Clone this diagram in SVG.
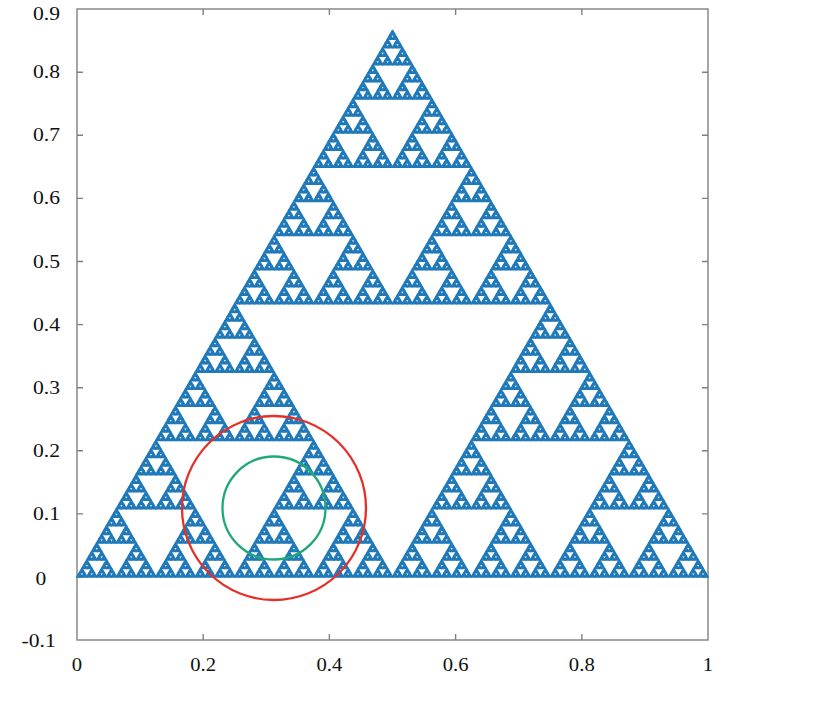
<svg xmlns="http://www.w3.org/2000/svg" width="830" height="722" viewBox="0 0 830 722">
<style>
.tri{fill:#2079b8;stroke:#2079b8;stroke-width:1.7;stroke-linejoin:round}
.frame{fill:none;stroke:#808080;stroke-width:1.4}
.tick{stroke:#808080;stroke-width:1.4}
.lbl{font-family:"Liberation Serif","Times New Roman",serif;font-size:18px;fill:#111}
.xl{text-anchor:middle}
.circ{fill:none;stroke-width:2.3}
</style>
<defs>
<polygon id="L0" class="tri" points="0,0 4.9297,0 2.4648,-4.2693"/>
<g id="L1"><use href="#L0"/><use href="#L0" x="4.9297"/><use href="#L0" x="2.4648" y="-4.2693"/></g>
<g id="L2"><use href="#L1"/><use href="#L1" x="9.8594"/><use href="#L1" x="4.9297" y="-8.5386"/></g>
<g id="L3"><use href="#L2"/><use href="#L2" x="19.7188"/><use href="#L2" x="9.8594" y="-17.0772"/></g>
<g id="L4"><use href="#L3"/><use href="#L3" x="39.4375"/><use href="#L3" x="19.7188" y="-34.1544"/></g>
<g id="L5"><use href="#L4"/><use href="#L4" x="78.875"/><use href="#L4" x="39.4375" y="-68.3088"/></g>
<g id="L6"><use href="#L5"/><use href="#L5" x="157.75"/><use href="#L5" x="78.875" y="-136.6176"/></g>
<g id="L7"><use href="#L6"/><use href="#L6" x="315.5"/><use href="#L6" x="157.75" y="-273.2352"/></g>
</defs>
<rect width="830" height="722" fill="#fff"/>
<g id="axes">
<rect class="frame" x="77" y="9" width="631" height="631"/>
<path class="tick" d="M203.2 640v-6M329.4 640v-6M455.6 640v-6M581.8 640v-6M203.2 9v6M329.4 9v6M455.6 9v6M581.8 9v6
M77 577h6M77 513.9h6M77 450.8h6M77 387.7h6M77 324.6h6M77 261.5h6M77 198.4h6M77 135.3h6M77 72.2h6
M708 577h-6M708 513.9h-6M708 450.8h-6M708 387.7h-6M708 324.6h-6M708 261.5h-6M708 198.4h-6M708 135.3h-6M708 72.2h-6"/>
</g>
<g id="sierpinski" transform="translate(77,577)"><use href="#L7"/></g>
<g id="circles">
<circle class="circ" cx="274" cy="508" r="92" stroke="#e5302a"/>
<circle class="circ" cx="274" cy="508" r="51.5" stroke="#1fa878"/>
</g>
<g id="ylabels" class="lbl">
<text transform="translate(33,20) scale(1.2,1)">0.9</text>
<text transform="translate(33,78) scale(1.2,1)">0.8</text>
<text transform="translate(33,141) scale(1.2,1)">0.7</text>
<text transform="translate(33,204) scale(1.2,1)">0.6</text>
<text transform="translate(33,268) scale(1.2,1)">0.5</text>
<text transform="translate(33,331) scale(1.2,1)">0.4</text>
<text transform="translate(33,394) scale(1.2,1)">0.3</text>
<text transform="translate(33,457) scale(1.2,1)">0.2</text>
<text transform="translate(33,520) scale(1.2,1)">0.1</text>
<text transform="translate(35.5,585) scale(1.2,1)">0</text>
<text transform="translate(21.5,647) scale(1.2,1)">-0.1</text>
</g>
<g id="xlabels" class="lbl xl">
<text transform="translate(77,671) scale(1.15,1.1)">0</text>
<text transform="translate(203.2,671) scale(1.15,1.1)">0.2</text>
<text transform="translate(329.4,671) scale(1.15,1.1)">0.4</text>
<text transform="translate(455.6,671) scale(1.15,1.1)">0.6</text>
<text transform="translate(581.8,671) scale(1.15,1.1)">0.8</text>
<text transform="translate(708,671) scale(1.15,1.1)">1</text>
</g>
</svg>
